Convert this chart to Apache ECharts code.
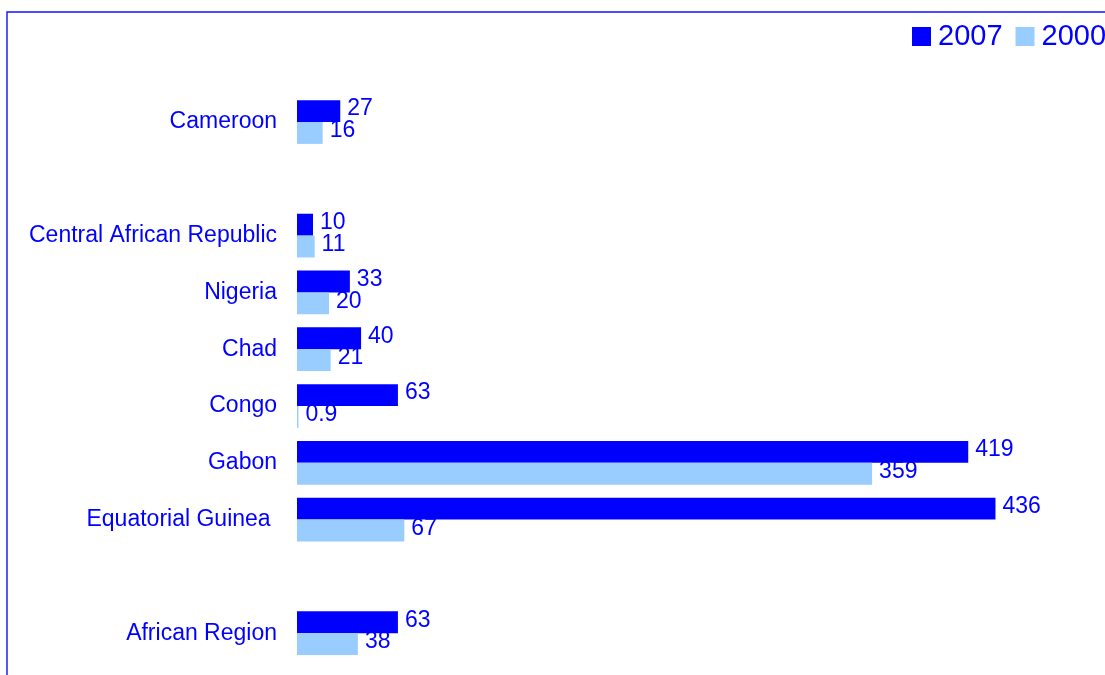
<!DOCTYPE html>
<html>
<head>
<meta charset="utf-8">
<script src="https://cdn.jsdelivr.net/npm/echarts@6/dist/echarts.min.js"></script>
<style>
  html, body { margin: 0; padding: 0; background: #fff; }
  #main { width: 1105px; height: 675px; }
</style>
</head>
<body>
<div id="main"></div>
<script>
// blank entries are the empty gaps between groups
const categories = ['', 'Cameroon', ' ', 'Central African Republic', 'Nigeria', 'Chad', 'Congo', 'Gabon', 'Equatorial Guinea ', '  ', 'African Region']
const values2007 = [null, 27, null, 10, 33, 40, 63, 419, 436, null, 63]
const values2000 = [null, 16, null, 11, 20, 21, 0.9, 359, 67, null, 38]
const seriesNames = ['2007', '2000']

const blue = '#0000FF'
const lightBlue = '#99CCFF'
const font = '"Liberation Sans", Arial, sans-serif'

const chart = echarts.init(document.getElementById('main'))

const barLabel = {
  show: true,
  position: 'right',
  distance: 7,
  offset: [0, -2],
  color: blue,
  fontSize: 23,
  fontFamily: font
}

const option = {
  animation: false,
  backgroundColor: '#fff',
  graphic: [
    {
      type: 'rect',
      shape: { x: 7, y: 12, width: 1300, height: 1000 },
      style: { fill: 'none', stroke: '#1010FF', lineWidth: 1.4 },
      silent: true
    }
  ],
  legend: {
    data: seriesNames,
    left: 912,
    top: 22,
    width: 400,
    padding: 0,
    itemWidth: 19,
    itemHeight: 19,
    itemGap: 13,
    icon: 'rect',
    textStyle: {
      color: blue,
      fontSize: 29,
      fontFamily: font,
      lineHeight: 19,
      padding: [0, 0, 3, 2]
    }
  },
  grid: {
    left: 297,
    right: 7,
    top: 36.8,
    bottom: 13.4,
    containLabel: false
  },
  xAxis: {
    type: 'value',
    min: 0,
    max: 500,
    show: false
  },
  yAxis: {
    type: 'category',
    inverse: true,
    data: categories,
    axisLine: { show: false },
    axisTick: { show: false },
    splitLine: { show: false },
    axisLabel: {
      color: blue,
      fontSize: 23,
      fontFamily: font,
      margin: 20
    }
  },
  series: [
    {
      name: seriesNames[0],
      type: 'bar',
      data: values2007,
      color: blue,
      barGap: '0%',
      barCategoryGap: '23%',
      label: barLabel
    },
    {
      name: seriesNames[1],
      type: 'bar',
      data: values2000,
      color: lightBlue,
      barGap: '0%',
      barCategoryGap: '23%',
      label: barLabel
    }
  ]
}

chart.setOption(option)
</script>
</body>
</html>
